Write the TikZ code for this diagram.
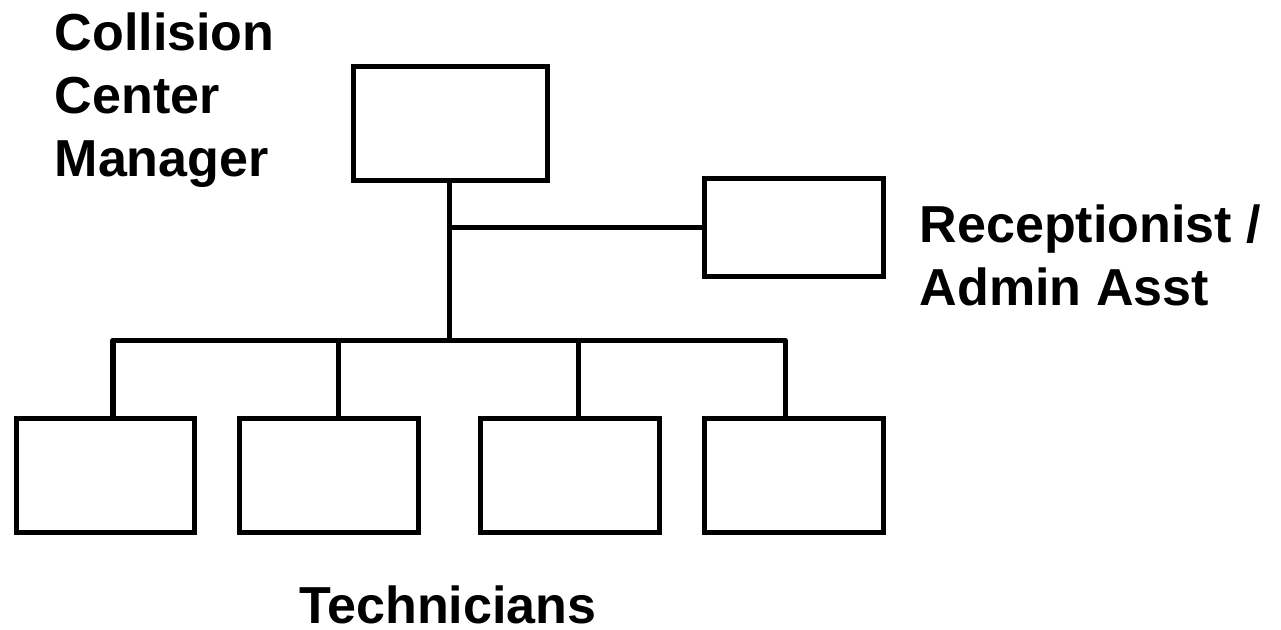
\documentclass[tikz,border=0pt]{standalone}
\usepackage{fontspec}
\setmainfont{Liberation Sans}
\usepackage{tikz}

\tikzset{
	post/.style={draw, line width=0.05cm, minimum width=1.78cm, minimum height=1.14cm, inner sep=0pt},
	link/.style={line width=0.05cm, line join=round},
	title/.style={font=\bfseries\fontsize{14.8}{17.9}\selectfont, inner sep=0pt, align=left}
}

\begin{document}
\begin{tikzpicture}[x=0.01cm, y=-0.01cm]
		\useasboundingbox (0,0) rectangle (1281,629);

		% Boxes
		\node[post, minimum width=1.94cm] (mgr) at (450.5,123.5) {};
		\node[post, minimum height=0.97cm] (rec) at (794,227.5) {};
		\node[post] (t1) at (105.5,475.5) {};
		\node[post] (t2) at (329,475.5) {};
		\node[post] (t3) at (570,475.5) {};
		\node[post] (t4) at (794,475.5) {};

		% Bus
		\coordinate (busL) at (113,340);
		\coordinate (busR) at (785,340);
		\coordinate (hub) at (449,340);

		% Lines
		\draw[link] (mgr.south -| hub) -- (hub);
		\draw[link] (hub |- rec.west) -- (rec.west);
		\draw[link] (busL |- t1.north) -- (busL) -- (busR) -- (busR |- t4.north);
		\draw[link] (hub -| 338,0) -- (338,0 |- t2.north);
		\draw[link] (hub -| 578,0) -- (578,0 |- t3.north);

		% Labels
		\node[title, anchor=north west] (lmgr) at (54,12) {Collision\\Center\\Manager};
		\node[title, anchor=north west] (lrec) at (919,204) {Receptionist /\\Admin Asst};
		\node[title, anchor=base] (ltech) at (448,623) {Technicians};
	\end{tikzpicture}
\end{document}
